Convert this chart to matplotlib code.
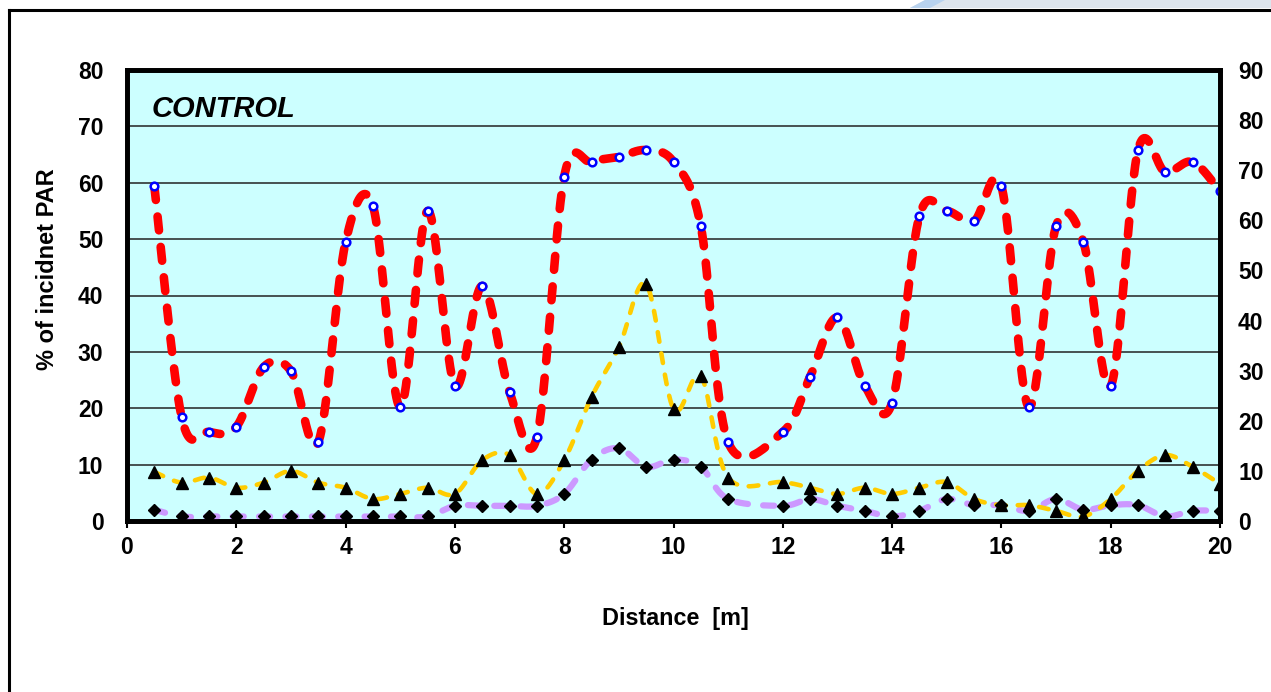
import numpy as np
import matplotlib
matplotlib.use("Agg")
import matplotlib.pyplot as plt
from matplotlib.lines import Line2D
from matplotlib.patches import Polygon

plt.rcParams["font.family"] = ["Liberation Sans", "DejaVu Sans"]
plt.rcParams["font.weight"] = "bold"
plt.rcParams["lines.scale_dashes"] = False

# Sampling positions along the transect [m] (no reading at 11.5 m)
distance = [0.5, 1.0, 1.5, 2.0, 2.5, 3.0, 3.5, 4.0, 4.5, 5.0, 5.5, 6.0, 6.5, 7.0,
            7.5, 8.0, 8.5, 9.0, 9.5, 10.0, 10.5, 11.0,
            12.0, 12.5, 13.0, 13.5, 14.0, 14.5, 15.0, 15.5, 16.0, 16.5, 17.0,
            17.5, 18.0, 18.5, 19.0, 19.5, 20.0]

# % of incident PAR at each level
par_top = [59.4, 18.4, 15.8, 16.7, 27.3, 26.6, 14.0, 49.5, 55.9, 20.2, 55.0, 24.0,
           41.7, 22.9, 14.9, 61.1, 63.7, 64.6, 65.8, 63.7, 52.3, 14.0,
           15.8, 25.6, 36.1, 24.0, 21.0, 54.1, 55.0, 53.2, 59.4, 20.2, 52.3,
           49.5, 23.9, 65.8, 61.9, 63.7, 58.5]
par_mid = [8.7, 6.8, 7.7, 5.9, 6.8, 8.9, 6.8, 5.9, 3.9, 4.8, 5.9, 4.8,
           10.8, 11.7, 4.8, 10.8, 22.0, 30.8, 42.0, 19.9, 25.7, 7.7,
           6.9, 5.9, 4.8, 5.9, 4.8, 5.9, 6.9, 3.9, 2.8, 2.8, 1.8,
           0.8, 3.9, 8.9, 11.7, 9.6, 6.6]
par_low = [2.0, 0.8, 0.8, 0.8, 0.8, 0.8, 0.8, 0.8, 0.8, 0.8, 0.8, 2.7,
           2.7, 2.7, 2.7, 4.8, 10.9, 12.9, 9.6, 10.9, 9.6, 3.9,
           2.7, 3.9, 2.7, 1.8, 0.8, 1.8, 3.9, 2.8, 2.8, 1.8, 3.9,
           2.0, 2.8, 2.8, 0.8, 1.8, 1.8]

x_ticks = list(range(0, 21, 2))
left_ticks = list(range(0, 81, 10))
right_ticks = list(range(0, 91, 10))


def smooth(xs, ys, n=30):
    """Smoothed curve through the points (cubic Bezier, Catmull-Rom tangents)."""
    p = np.column_stack([xs, ys]).astype(float)
    pts = [p[0]]
    for i in range(len(p) - 1):
        p0 = p[i - 1] if i > 0 else p[i]
        p1, p2 = p[i], p[i + 1]
        p3 = p[i + 2] if i + 2 < len(p) else p[i + 1]
        c1 = p1 + (p2 - p0) / 6.0
        c2 = p2 - (p3 - p1) / 6.0
        t = np.linspace(0, 1, n)[1:, None]
        seg = ((1 - t) ** 3) * p1 + 3 * ((1 - t) ** 2) * t * c1 \
            + 3 * (1 - t) * t ** 2 * c2 + t ** 3 * p2
        pts.extend(seg)
    pts = np.array(pts)
    return pts[:, 0], pts[:, 1]


W, H = 1271, 692
fig = plt.figure(figsize=(W / 100, H / 100), dpi=100)

# outer frame and header strip
fig.add_artist(Line2D([8.5 / W, 8.5 / W], [0, 1 - 9.5 / H], transform=fig.transFigure,
                      color="black", lw=2.2, solid_capstyle="projecting"))
fig.add_artist(Line2D([8.5 / W, 1], [1 - 9.5 / H, 1 - 9.5 / H], transform=fig.transFigure,
                      color="black", lw=2.2, solid_capstyle="projecting"))
fig.add_artist(Polygon([[925 / W, 1], [1, 1], [1, 1 - 8 / H], [910 / W, 1 - 8 / H]],
                       closed=True, transform=fig.transFigure,
                       facecolor="#dde4ec", edgecolor="none"))
fig.add_artist(Polygon([[925 / W, 1], [945 / W, 1], [930 / W, 1 - 8 / H], [910 / W, 1 - 8 / H]],
                       closed=True, transform=fig.transFigure,
                       facecolor="#b8d2ee", edgecolor="none"))

ax = fig.add_axes([127 / W, 1 - 521 / H, (1220 - 127) / W, (521 - 70) / H])
ax.set_xlim(0, 20)
ax.set_ylim(0, 80)
ax.set_facecolor("#CCFFFF")
ax.set_axisbelow(True)
ax.set_yticks(left_ticks)
ax.set_xticks(x_ticks)
ax.yaxis.grid(True, color="#222222", lw=1.1)
ax.tick_params(axis="y", length=0, pad=17, labelsize=16.5)
ax.tick_params(axis="x", length=5, width=1.5, direction="out", pad=6, labelsize=16.5)
for s in ax.spines.values():
    s.set_linewidth(3.4)
    s.set_color("black")

ax2 = ax.twinx()
ax2.set_ylim(0, 90)
ax2.set_yticks(right_ticks)
ax2.tick_params(axis="y", length=0, pad=13, labelsize=16.5)
for s in ax2.spines.values():
    s.set_linewidth(3.4)
    s.set_color("black")

# lowest level
sx, sy = smooth(distance, par_low)
ax.plot(sx, sy, color="#CC99FF", lw=4.5, dashes=(8, 11), dash_capstyle="round", zorder=3)
ax.plot(distance, par_low, ls="none", marker="D", ms=6.3, color="black", zorder=5)

# middle level
sx, sy = smooth(distance, par_mid)
ax.plot(sx, sy, color="#FFCC00", lw=3.3, dashes=(7, 8.5), dash_capstyle="round", zorder=4)
ax.plot(distance, par_mid, ls="none", marker="^", ms=8, color="black", zorder=6)

# top level
sx, sy = smooth(distance, par_top)
ax.plot(sx, sy, color="#FF0000", lw=6.2, dashes=(10, 12), dash_capstyle="round", zorder=7)
ax.plot(distance, par_top, ls="none", marker="o", ms=5.5, mfc="white", mec="#0000FF",
        mew=1.8, zorder=8)

ax.text(152 / W, 1 - 117 / H, "CONTROL", transform=fig.transFigure, fontsize=21,
        fontstyle="italic", fontweight="bold", ha="left", va="baseline")

fig.text(48 / W, 1 - 370 / H, "% of incidnet PAR", rotation=90, ha="center", va="bottom",
         fontsize=17, fontweight="bold")
fig.text(675 / W, 1 - 618 / H, "Distance  [m]", ha="center", va="center",
         fontsize=16.8, fontweight="bold")

fig.savefig("out.png", dpi=100)
